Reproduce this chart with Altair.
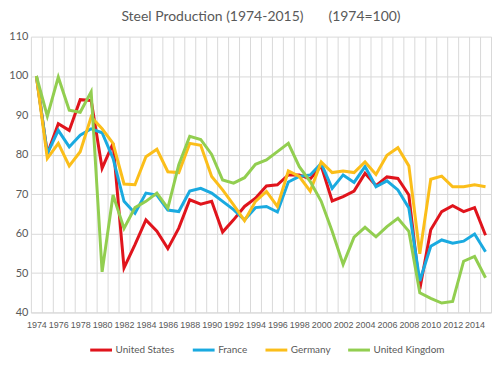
import altair as alt
import pandas as pd

years = list(range(1974, 2016))

us = [100, 80.3, 87.9, 86.2, 94.0, 93.8, 76.6, 82.9, 51.3, 57.2, 63.5, 60.6, 56.2,
      61.4, 68.6, 67.5, 68.2, 60.4, 63.5, 66.9, 69.0, 72.1, 72.4, 74.9, 74.9, 73.9,
      77.2, 68.3, 69.4, 70.8, 75.3, 72.2, 74.4, 74.0, 69.8, 45.9, 61.0, 65.6, 67.1,
      65.6, 66.6, 59.6]
france = [100, 80.3, 86.2, 82.0, 85.0, 86.6, 85.6, 79.1, 68.2, 65.2, 70.3, 69.8, 66.0,
          65.6, 70.8, 71.5, 70.3, 68.2, 66.1, 63.5, 66.6, 66.9, 65.5, 73.1, 74.5, 74.9,
          77.8, 71.5, 74.9, 73.0, 77.0, 71.9, 73.4, 71.1, 66.5, 48.0, 56.8, 58.4, 57.6,
          58.1, 59.9, 55.4]
germany = [100, 79.1, 82.9, 77.2, 80.8, 89.6, 86.6, 82.9, 72.6, 72.4, 79.5, 81.4, 75.7,
           75.5, 82.9, 82.4, 74.5, 71.1, 67.3, 63.3, 68.2, 70.7, 66.9, 75.9, 74.5, 70.8,
           78.2, 75.5, 75.9, 75.5, 78.2, 75.0, 79.9, 81.8, 77.2, 54.9, 73.8, 74.6, 71.9,
           71.9, 72.4, 71.9]
uk = [100, 89.8, 99.7, 91.3, 90.8, 96.0, 50.3, 69.8, 61.3, 66.6, 68.2, 70.3, 66.5,
      77.5, 84.7, 83.9, 80.1, 73.6, 72.8, 74.2, 77.6, 78.7, 80.8, 82.9, 77.0, 73.2,
      68.2, 60.6, 52.2, 59.1, 61.6, 59.2, 61.8, 63.9, 60.6, 45.0, 43.6, 42.4, 42.8,
      53.0, 54.2, 48.8]

series_names = ["United States", "France", "Germany", "United Kingdom"]
series_colors = ["#E0141C", "#1AAAE0", "#FBBE1A", "#92CE50"]
x_label_years = list(range(1974, 2015, 2))
x_grid_years = [y - 0.5 for y in range(1974, 2017)]
y_ticks = list(range(40, 111, 10))

rows = []
for name, vals in zip(series_names, [us, france, germany, uk]):
    for yr, v in zip(years, vals):
        rows.append({"Year": yr, "Value": v, "Country": name})
df = pd.DataFrame(rows)

FONT = "Lato"
NARROW = "Liberation Sans"
GRAY = "#595959"
GRID = "#D9D9D9"

x_scale = alt.Scale(domain=[1973.5, 2015.5], nice=False, zero=False)
y_scale = alt.Scale(domain=[40, 110], nice=False, zero=False)

lines = alt.Chart(df).mark_line(strokeWidth=3).encode(
    x=alt.X("Year:Q", scale=x_scale,
            axis=alt.Axis(values=x_label_years, format="d", title=None, grid=False,
                          ticks=False, domain=True, domainColor=GRID,
                          labelFontSize=9, labelFont=NARROW,
                          labelColor=GRAY, labelOverlap=False, labelPadding=8,
                          labelFlush=False)),
    y=alt.Y("Value:Q", scale=y_scale,
            axis=alt.Axis(values=y_ticks, title=None, grid=True, gridColor=GRID,
                          ticks=False, domain=False, labelFontSize=11,
                          labelFont=FONT, labelColor=GRAY, labelPadding=3)),
    color=alt.Color("Country:N",
                    scale=alt.Scale(domain=series_names, range=series_colors),
                    sort=series_names,
                    legend=alt.Legend(title=None, orient="none", direction="horizontal",
                                      legendX=58, legendY=302, symbolType="stroke",
                                      symbolSize=480, symbolStrokeWidth=3,
                                      labelFont=FONT, labelFontSize=10,
                                      labelColor=GRAY, labelOffset=2,
                                      columnPadding=11)),
    order=alt.Order("Year:Q"),
)

grid = alt.Chart(pd.DataFrame({"Year": x_grid_years})).mark_tick(opacity=0).encode(
    x=alt.X("Year:Q", scale=x_scale,
            axis=alt.Axis(values=x_grid_years, orient="top", labels=False,
                          ticks=False, domain=False, grid=True, gridColor=GRID,
                          title=None)),
)

chart = alt.layer(grid, lines).resolve_axis(x="independent").properties(
    width=462, height=277,
    padding={"left": 0, "top": 1, "right": 0, "bottom": 0},
    title=alt.TitleParams(
        "Steel Production (1974-2015)" + "\u00a0" * 7 + "(1974=100)",
        font=FONT, fontSize=14, fontWeight="normal", color=GRAY,
        anchor="middle", offset=7),
).configure_view(stroke=None)

chart.save("out.html", embed_options={"renderer": "svg", "actions": False})
